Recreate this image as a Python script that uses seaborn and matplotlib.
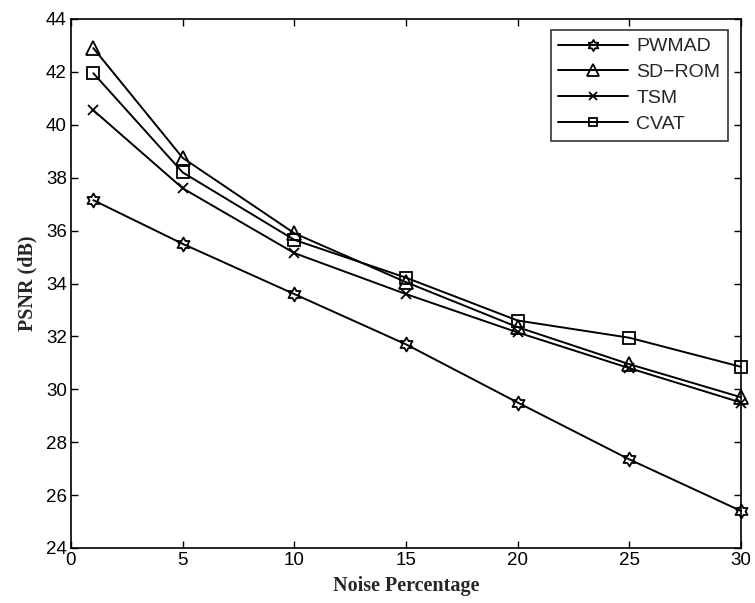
import numpy as np
import pandas as pd
import matplotlib
matplotlib.use("Agg")
import matplotlib.pyplot as plt
from matplotlib.path import Path
import seaborn as sns

noise = [1, 5, 10, 15, 20, 25, 30]
pwmad = [37.15, 35.5, 33.6, 31.7, 29.5, 27.35, 25.4]
sdrom = [42.9, 38.75, 35.9, 34.05, 32.35, 30.95, 29.7]
tsm = [40.55, 37.6, 35.15, 33.6, 32.15, 30.8, 29.5]
cvat = [41.95, 38.2, 35.65, 34.22, 32.6, 31.95, 30.85]
series_names = ["PWMAD", "SD\u2212ROM", "TSM", "CVAT"]

sns.set_style("ticks")
plt.rcParams["font.family"] = ["Liberation Sans", "DejaVu Sans"]

# hexagram marker shape
ang_out = np.deg2rad(90 + 60 * np.arange(6))
ang_in = np.deg2rad(120 + 60 * np.arange(6))
r_in = 1 / np.sqrt(3)
verts = []
for ao, ai in zip(ang_out, ang_in):
    verts.append((np.cos(ao), np.sin(ao)))
    verts.append((r_in * np.cos(ai), r_in * np.sin(ai)))
verts.append(verts[0])
codes = [Path.MOVETO] + [Path.LINETO] * 11 + [Path.CLOSEPOLY]
hexagram = Path(verts, codes)

df = pd.DataFrame({
    "noise": noise * 4,
    "psnr": pwmad + sdrom + tsm + cvat,
    "method": sum([[n] * len(noise) for n in series_names], []),
})

W, H = 755, 603
L, R, T, B = 71, 741, 19, 548
fig = plt.figure(figsize=(W / 100, H / 100), dpi=100)
ax = fig.add_axes([L / W, 1 - B / H, (R - L) / W, (B - T) / H])

markers = {series_names[0]: hexagram, series_names[1]: "^", series_names[2]: "x", series_names[3]: "s"}
sizes = {series_names[0]: 10, series_names[1]: 10, series_names[2]: 7, series_names[3]: 8}
for name in series_names:
    sub = df[df["method"] == name]
    sns.lineplot(data=sub, x="noise", y="psnr", ax=ax, color="black", lw=1.4,
                 marker=markers[name], markersize=sizes[name], markerfacecolor="none",
                 markeredgecolor="black", markeredgewidth=1.3, label=name, clip_on=False)

ax.set_xlim(0, 30)
ax.set_ylim(24, 44)
ax.set_xticks(range(0, 31, 5))
ax.set_yticks(range(24, 45, 2))
ax.tick_params(direction="in", top=True, right=True, labelsize=13.5, length=5, width=1,
               colors="black", pad=3)
for s in ax.spines.values():
    s.set_visible(True)
    s.set_linewidth(1.2)
    s.set_color("black")

ax.set_xlabel("Noise Percentage", family=["Liberation Serif"], fontweight="bold", fontsize=14.5, labelpad=5)
ax.set_ylabel("PSNR (dB)", family=["Liberation Serif"], fontweight="bold", fontsize=14.5, labelpad=6)

leg = ax.legend(loc="upper right", fontsize=14, frameon=True, fancybox=False, edgecolor="black",
                handlelength=3.6, handletextpad=0.4, borderpad=0.4, labelspacing=0.42,
                borderaxespad=0, bbox_to_anchor=((728 - L) / (R - L), 1 - (30 - T) / (B - T)))
leg.get_frame().set_linewidth(1.2)
for h in leg.legend_handles:
    h.set_markersize(h.get_markersize() * 0.8)

fig.savefig("out.png", dpi=100)
